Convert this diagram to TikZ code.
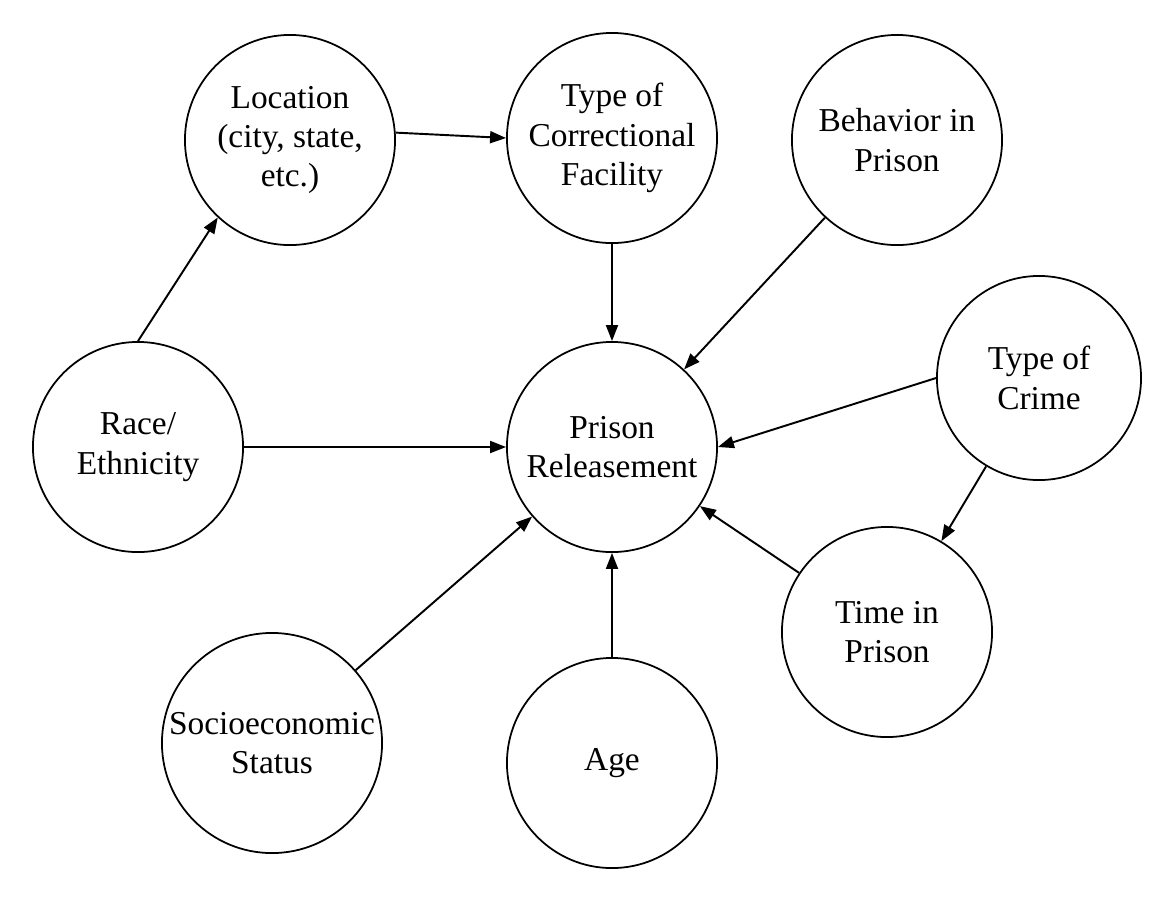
\documentclass[tikz,border=0pt]{standalone}
\usepackage{fontspec}
\setmainfont{Liberation Serif}
\usetikzlibrary{arrows.meta}
\begin{document}
\begin{tikzpicture}[x=0.01cm, y=-0.01cm,
        var/.style={draw, shape=circle, minimum size=2.1cm, inner sep=0pt, align=center, line width=0.5pt, font=\fontsize{9.5}{11.2}\selectfont},
        arr/.style={-{Triangle[length=0.16cm, width=0.12cm]}, line width=0.55pt}]
            \useasboundingbox (0,0) rectangle (1172,908);

            \node[var] (LC) at (290,140) {Location\\(city, state,\\etc.)};
            \node[var] (CF) at (612,138) {Type of\\Correctional\\Facility};
            \node[var] (BP) at (897,140) {Behavior in\\Prison};
            \node[var, minimum size=2.04cm] (TC) at (1039,378) {Type of\\Crime};

            \node[var] (RE) at (138,447) {Race/\\Ethnicity};
            \node[var] (PR) at (612,447) {Prison\\Releasement};
            \node[var] (TP) at (887,632) {Time in\\Prison};

            \node[var, minimum size=2.2cm] (SS) at (272,743) {Socioeconomic\\Status};
            \node[var] (AG) at (612,763) {Age};

            \draw[arr] (LC.4) -- (CF.west);
            \draw[arr] (RE.north) -- (LC.227);
            \draw[arr] (CF) -- (PR);
            \draw[arr] (BP) -- (PR);
            \draw[arr] (TC.west) -- (PR.east);
            \draw[arr] (TC) -- (TP);
            \draw[arr] (TP) -- (PR);
            \draw[arr] (SS) -- (PR);
            \draw[arr] (AG) -- (PR);
            \draw[arr] (RE) -- (PR);
        \end{tikzpicture}
\end{document}
